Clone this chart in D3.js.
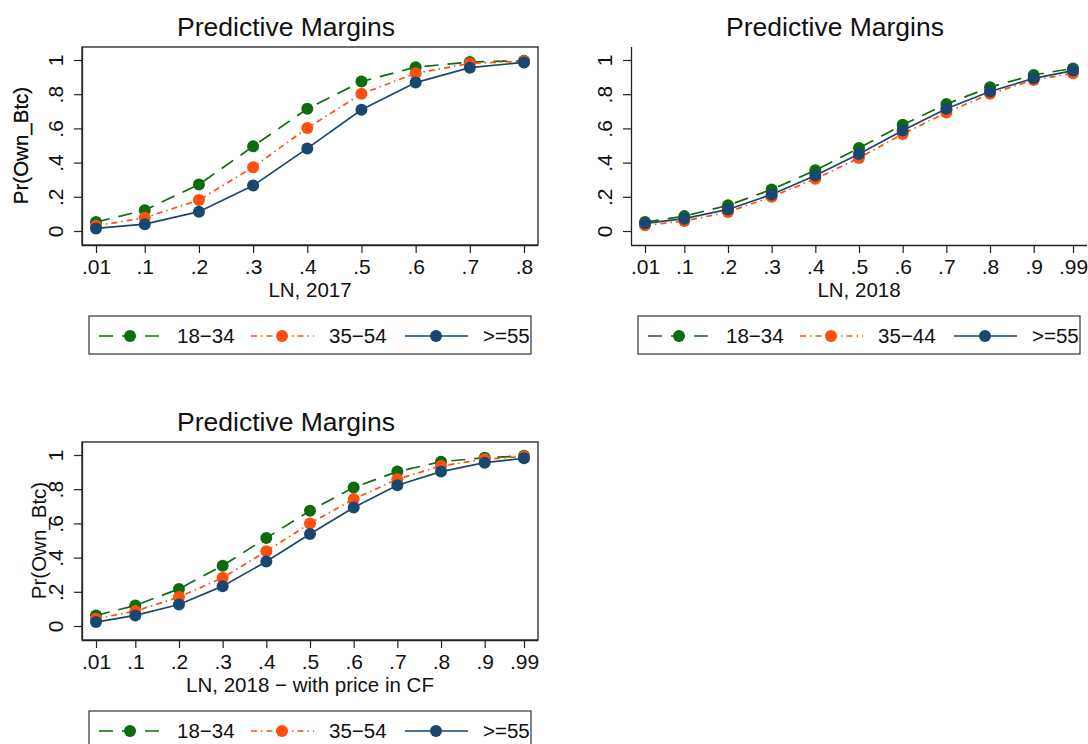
<!DOCTYPE html>
<html>
<head>
<meta charset="utf-8">
<script src="https://cdn.jsdelivr.net/npm/d3@7"></script>
<style>
html,body{margin:0;padding:0;background:#fff;overflow:hidden;}
svg{display:block;font-family:"Liberation Sans",Arial,Helvetica,sans-serif;}
</style>
</head>
<body>
<svg id="chart" width="1088" height="744"></svg>
<script>
// ---------- data ----------
const xVals2017 = [0.01, 0.1, 0.2, 0.3, 0.4, 0.5, 0.6, 0.7, 0.8];
const xLabels2017 = [".01", ".1", ".2", ".3", ".4", ".5", ".6", ".7", ".8"];
const xVals2018 = [0.01, 0.1, 0.2, 0.3, 0.4, 0.5, 0.6, 0.7, 0.8, 0.9, 0.99];
const xLabels2018 = [".01", ".1", ".2", ".3", ".4", ".5", ".6", ".7", ".8", ".9", ".99"];
const yTickVals = [0, 0.2, 0.4, 0.6, 0.8, 1];
const yTickLabels = ["0", ".2", ".4", ".6", ".8", "1"];

const p2017_18_34 = [0.052, 0.122, 0.272, 0.495, 0.715, 0.874, 0.958, 0.988, 0.996];
const p2017_35_54 = [0.030, 0.078, 0.181, 0.373, 0.602, 0.802, 0.922, 0.980, 0.993];
const p2017_55 = [0.015, 0.040, 0.113, 0.266, 0.483, 0.709, 0.868, 0.955, 0.986];

const p2018_18_34 = [0.052, 0.087, 0.150, 0.243, 0.355, 0.485, 0.621, 0.742, 0.841, 0.913, 0.951];
const p2018_35_44 = [0.033, 0.058, 0.111, 0.200, 0.305, 0.427, 0.567, 0.693, 0.802, 0.883, 0.922];
const p2018_55 = [0.045, 0.072, 0.126, 0.214, 0.324, 0.450, 0.588, 0.715, 0.816, 0.893, 0.938];

const pCF_18_34 = [0.062, 0.120, 0.217, 0.353, 0.515, 0.674, 0.810, 0.903, 0.961, 0.984, 0.995];
const pCF_35_54 = [0.043, 0.087, 0.169, 0.282, 0.437, 0.600, 0.742, 0.858, 0.936, 0.975, 0.992];
const pCF_55 = [0.023, 0.062, 0.126, 0.233, 0.377, 0.538, 0.693, 0.823, 0.903, 0.955, 0.981];

const legend2017 = ["18\u221234", "35\u221254", ">=55"];
const legend2018 = ["18\u221234", "35\u221244", ">=55"];
const legendCF = ["18\u221234", "35\u221254", ">=55"];

const titles = ["Predictive Margins", "Predictive Margins", "Predictive Margins"];
const xTitles = ["LN, 2017", "LN, 2018", "LN, 2018 \u2212 with price in CF"];
const yTitle = "Pr(Own_Btc)";

// ---------- styles ----------
const seriesStyle = [
  {color: "#0e6b0e", dash: "14,9"},
  {color: "#ff4f0f", dash: "6,4,1.5,4"},
  {color: "#1a476f", dash: null}
];

const panels = [
  {left: 82, top: 47, box: true, xVals: xVals2017, xLabels: xLabels2017, xDom: [0.01, 0.8],
   series: [p2017_18_34, p2017_35_54, p2017_55], legend: legend2017, title: titles[0], xTitle: xTitles[0], yTitleX: 28},
  {left: 631, top: 47, box: false, xVals: xVals2018, xLabels: xLabels2018, xDom: [0.01, 0.99],
   series: [p2018_18_34, p2018_35_44, p2018_55], legend: legend2018, title: titles[1], xTitle: xTitles[1], yTitleX: 28},
  {left: 82, top: 442, box: true, xVals: xVals2018, xLabels: xLabels2018, xDom: [0.01, 0.99],
   series: [pCF_18_34, pCF_35_54, pCF_55], legend: legendCF, title: titles[2], xTitle: xTitles[2], yTitleX: 46}
];

const W = 456, H = 198;
const svg = d3.select("#chart");
svg.append("rect").attr("width", 1088).attr("height", 744).attr("fill", "#fff");

const axisColor = "#222";

panels.forEach(p => {
  const g = svg.append("g").attr("transform", `translate(${p.left},${p.top})`);
  const x = d3.scaleLinear().domain(p.xDom).range([14, W - 14]);
  const y = d3.scaleLinear().domain([0, 1]).range([H - 14, 13]);

  // title
  svg.append("text").attr("x", p.left + 204).attr("y", p.top - 11)
    .attr("text-anchor", "middle").attr("font-size", 26.5).attr("fill", "#111")
    .text(p.title);

  // box or axes
  if (p.box) {
    g.append("rect").attr("x", 0).attr("y", 0).attr("width", W).attr("height", H)
      .attr("fill", "none").attr("stroke", axisColor).attr("stroke-width", 1.3);
  }

  const xAxis = d3.axisBottom(x).tickValues(p.xVals)
    .tickFormat((d, i) => p.xLabels[i]).tickSize(8).tickSizeOuter(0);
  const gx = g.append("g").attr("transform", `translate(0,${H})`).call(xAxis);
  gx.select(".domain").attr("d", `M0,0.5H${W}`).attr("stroke", axisColor).attr("stroke-width", 1.3);
  gx.selectAll(".tick line").attr("stroke", axisColor).attr("stroke-width", 1.2);
  gx.selectAll(".tick text").attr("y", 29).attr("dy", null)
    .attr("font-size", 21).attr("fill", "#111").attr("font-family", null);

  const yAxis = d3.axisLeft(y).tickValues(yTickVals)
    .tickFormat((d, i) => yTickLabels[i]).tickSize(8).tickSizeOuter(0);
  const gy = g.append("g").call(yAxis);
  gy.select(".domain").attr("d", `M0.5,0V${H}`).attr("stroke", axisColor).attr("stroke-width", 1.3);
  gy.selectAll(".tick line").attr("stroke", axisColor).attr("stroke-width", 1.2);
  gy.selectAll(".tick text").attr("x", null).attr("dy", null)
    .attr("transform", "translate(-19,0) rotate(-90)")
    .attr("text-anchor", "middle").attr("font-size", 21).attr("fill", "#111").attr("font-family", null);

  // axis titles
  g.append("text").attr("x", W / 2).attr("y", H + 52).attr("text-anchor", "middle")
    .attr("font-size", 20.5).attr("fill", "#111").text(p.xTitle);
  svg.append("text")
    .attr("transform", `translate(${p.yTitleX},${p.top + (y(0) + y(1)) / 2}) rotate(-90)`)
    .attr("text-anchor", "middle").attr("font-size", 20.5).attr("fill", "#111").text(yTitle);

  // series
  const line = d3.line().x((d, i) => x(p.xVals[i])).y(d => y(d));
  p.series.forEach((vals, si) => {
    const st = seriesStyle[si];
    const sg = g.append("g");
    sg.append("path").attr("d", line(vals)).attr("fill", "none")
      .attr("stroke", st.color).attr("stroke-width", 1.7)
      .attr("stroke-dasharray", st.dash);
    sg.selectAll("circle").data(vals).join("circle")
      .attr("cx", (d, i) => x(p.xVals[i])).attr("cy", d => y(d)).attr("r", 6)
      .attr("fill", st.color);
  });

  // legend
  const lg = svg.append("g").attr("transform", `translate(${p.left + 7},${p.top + 269})`);
  lg.append("rect").attr("x", 0).attr("y", 0).attr("width", 442).attr("height", 38)
    .attr("fill", "#fff").attr("stroke", "#333").attr("stroke-width", 1.2);
  const itemX = [10, 162, 316];
  p.legend.forEach((lab, si) => {
    const st = seriesStyle[si];
    const ix = itemX[si];
    lg.append("line").attr("x1", ix).attr("x2", ix + 63).attr("y1", 20).attr("y2", 20)
      .attr("stroke", st.color).attr("stroke-width", 1.7).attr("stroke-dasharray", st.dash);
    lg.append("circle").attr("cx", ix + 31).attr("cy", 20).attr("r", 6).attr("fill", st.color);
    lg.append("text").attr("x", ix + 78).attr("y", 27).attr("font-size", 20.5).attr("fill", "#111").text(lab);
  });
});
</script>
</body>
</html>
